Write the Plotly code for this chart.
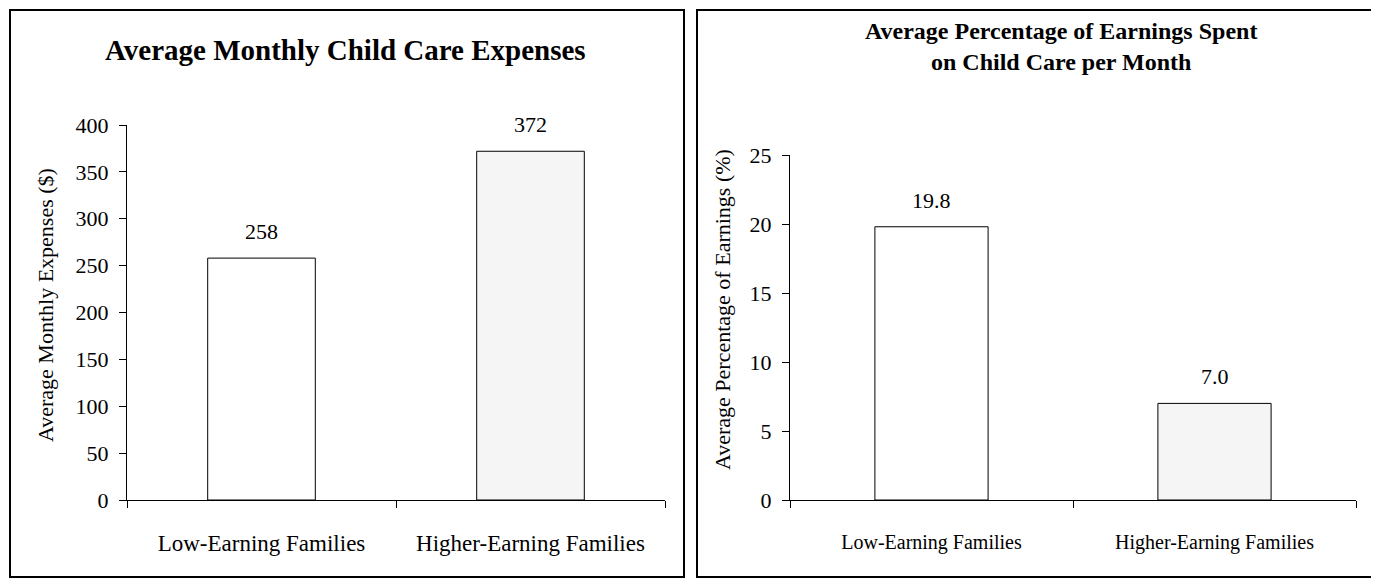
import plotly.graph_objects as go

categories = ["Low-Earning Families", "Higher-Earning Families"]
expenses = [258, 372]
expense_labels = ["258", "372"]
percent = [19.8, 7.0]
percent_labels = ["19.8", "7.0"]
bar_colors = ["#ffffff", "#f5f5f5"]

OFF = 8  # default page body margin
W, H = 1379 - OFF, 580 - OFF
FONT = "Liberation Serif"

def px(x):
    return (x - OFF) / W

def py(y):
    return 1 - (y - OFF) / H

fig = go.Figure()
fig.add_trace(go.Bar(x=categories, y=expenses,
                     marker=dict(color=bar_colors, line=dict(color="black", width=1)),
                     width=0.4, xaxis="x", yaxis="y", showlegend=False, hoverinfo="skip"))
fig.add_trace(go.Bar(x=categories, y=percent,
                     marker=dict(color=bar_colors, line=dict(color="black", width=1)),
                     width=0.4, xaxis="x2", yaxis="y2", showlegend=False, hoverinfo="skip"))

axis_common = dict(showgrid=False, zeroline=False, showline=True, linecolor="black", linewidth=1,
                   ticks="outside", tickcolor="black", ticklen=7, tickwidth=1, automargin=False)

fig.update_layout(
    template="none",
    width=W, height=H, margin=dict(l=0, r=0, t=0, b=0, pad=0, autoexpand=False),
    paper_bgcolor="white", plot_bgcolor="white",
    font=dict(family=FONT, color="black", size=22),
    xaxis=dict(domain=[px(127), px(665)], anchor="y", type="category", range=[-0.5, 1.5],
               tickson="boundaries", ticklabelstandoff=22, tickfont=dict(size=23), **axis_common),
    yaxis=dict(domain=[py(500), py(125)], anchor="x", range=[0, 400], tickvals=list(range(0, 401, 50)),
               ticklabelstandoff=6, tickfont=dict(size=22), **axis_common),
    xaxis2=dict(domain=[px(790), px(1356)], anchor="y2", type="category", range=[-0.5, 1.5],
                tickson="boundaries", ticklabelstandoff=24, tickfont=dict(size=20), **axis_common),
    yaxis2=dict(domain=[py(500), py(155)], anchor="x2", range=[0, 25], tickvals=list(range(0, 26, 5)),
                ticklabelstandoff=6, tickfont=dict(size=22), **axis_common),
)

# value labels anchored to the bars through the axes
for xa, ya, vals, labs in [("x", "y", expenses, expense_labels), ("x2", "y2", percent, percent_labels)]:
    for c, v, t in zip(categories, vals, labs):
        fig.add_annotation(x=c, y=v, xref=xa, yref=ya, text=t, showarrow=False, yanchor="bottom",
                           xanchor="center", yshift=12, font=dict(size=22, family=FONT))

# panel borders
for x0, x1 in [(10, 684), (697, 1375)]:
    fig.add_shape(type="rect", xref="paper", yref="paper", x0=px(x0), x1=px(x1), y0=py(577), y1=py(10),
                  line=dict(color="black", width=2), fillcolor="rgba(0,0,0,0)", layer="below")

fig.add_annotation(text="<b>Average Monthly Child Care Expenses</b>", xref="paper", yref="paper",
                   x=px(345), y=py(50), xanchor="center", yanchor="middle", showarrow=False,
                   font=dict(size=29, family=FONT))
fig.add_annotation(text="<b>Average Percentage of Earnings Spent<br>on Child Care per Month</b>", xref="paper", yref="paper",
                   x=px(1061), y=py(46), xanchor="center", yanchor="middle", showarrow=False,
                   font=dict(size=24, family=FONT))
fig.add_annotation(text="Average Monthly Expenses ($)", xref="paper", yref="paper", textangle=-90,
                   x=px(45), y=py(305), xanchor="center", yanchor="middle", showarrow=False,
                   font=dict(size=22, family=FONT))
fig.add_annotation(text="Average Percentage of Earnings (%)", xref="paper", yref="paper", textangle=-90,
                   x=px(722), y=py(310), xanchor="center", yanchor="middle", showarrow=False,
                   font=dict(size=22, family=FONT))

fig.write_html("out.html")
